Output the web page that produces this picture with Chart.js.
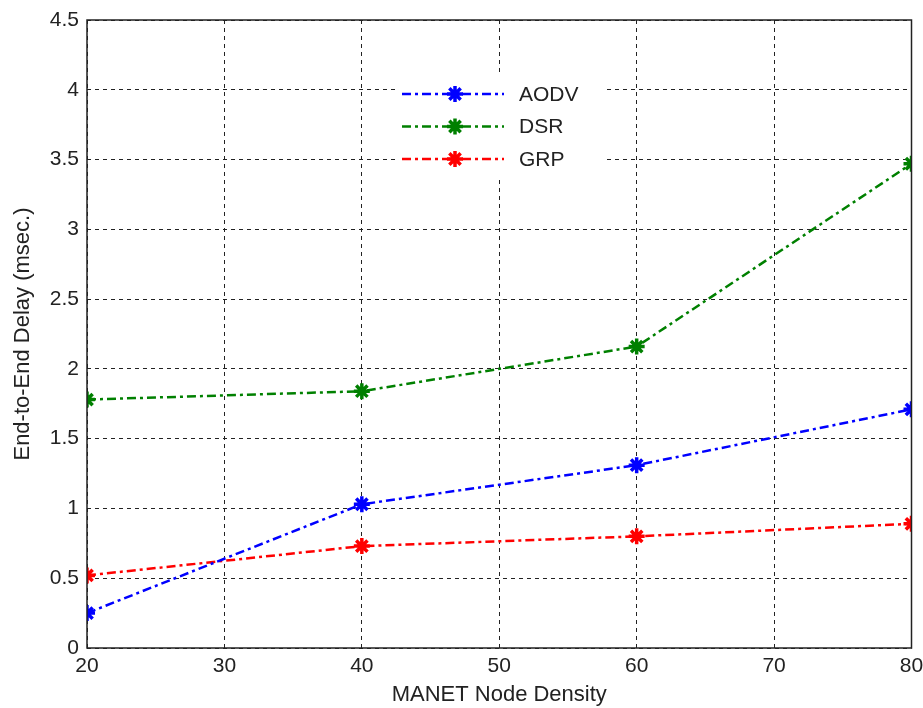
<!DOCTYPE html>
<html>
<head>
<meta charset="utf-8">
<script src="https://cdn.jsdelivr.net/npm/chart.js@4.4.1/dist/chart.umd.min.js"></script>
<style>
  html, body { margin: 0; padding: 0; background: #fff; }
  #wrap { width: 923px; height: 708px; }
</style>
</head>
<body>
<div id="wrap"><canvas id="lineChart" width="923" height="708"></canvas></div>
<script>
// node density (x axis)
var density = [20, 40, 60, 80];
// end-to-end delay in msec
var aodv = [0.25, 1.03, 1.31, 1.71];
var dsr = [1.78, 1.84, 2.16, 3.47];
var grp = [0.52, 0.73, 0.80, 0.89];
var yTicks = [0, 0.5, 1, 1.5, 2, 2.5, 3, 3.5, 4, 4.5];
var xTicks = [20, 30, 40, 50, 60, 70, 80];

var FONT = "'Liberation Sans', Arial, sans-serif";

function pts(vals) {
  return density.map(function (d, i) { return { x: d, y: vals[i] }; });
}

function series(label, vals, color) {
  return {
    label: label,
    data: pts(vals),
    borderColor: color,
    backgroundColor: color,
    borderWidth: 2.5,
    borderDash: [9, 4, 3, 4],
    pointStyle: "star",
    pointRadius: 8,
    pointBorderWidth: 3.5,
    pointBorderColor: color,
    tension: 0,
    fill: false,
  };
}

// box around plot + legend inside plot area (MATLAB style)
var matlabBits = {
  id: "matlabBits",
  afterDatasetsDraw: function (chart) {
    var c = chart.ctx, a = chart.chartArea;
    c.save();
    c.strokeStyle = "#222";
    c.lineWidth = 1.5;
    c.setLineDash([]);
    c.strokeRect(a.left, a.top, a.right - a.left, a.bottom - a.top);

    // legend
    c.fillStyle = "#fff";
    c.fillRect(395, 74, 210, 102);
    chart.data.datasets.forEach(function (ds, i) {
      var y = 94 + i * 32.5;
      c.strokeStyle = ds.borderColor;
      c.lineWidth = ds.borderWidth;
      c.setLineDash(ds.borderDash);
      c.beginPath();
      c.moveTo(402, y);
      c.lineTo(504, y);
      c.stroke();
      c.setLineDash([]);
      c.lineWidth = ds.pointBorderWidth;
      Chart.helpers.drawPoint(c, { pointStyle: "star", radius: 8, rotation: 0, borderWidth: ds.pointBorderWidth }, 455, y);
      c.fillStyle = "#222";
      c.font = "21px " + FONT;
      c.textBaseline = "middle";
      c.textAlign = "left";
      c.fillText(ds.label, 519, y + 1);
    });
    c.restore();
  },
};

var ctx = document.getElementById("lineChart").getContext("2d");
var myChart = new Chart(ctx, {
  type: "line",
  data: {
    datasets: [
      series("AODV", aodv, "#0000ff"),
      series("DSR", dsr, "#008000"),
      series("GRP", grp, "#ff0000"),
    ],
  },
  options: {
    responsive: false,
    animation: false,
    layout: { padding: { top: 20, right: 11, left: 0, bottom: 0 } },
    plugins: {
      legend: { display: false },
      tooltip: { enabled: false },
    },
    scales: {
      x: {
        type: "linear",
        min: 20,
        max: 80,
        afterBuildTicks: function (s) { s.ticks = xTicks.map(function (v) { return { value: v }; }); },
        afterFit: function (s) { s.height = 60; s.paddingRight = 0; s.paddingLeft = 0; },
        grid: { color: "#222", lineWidth: 1, drawTicks: false },
        border: { display: false, dash: [4, 4] },
        ticks: {
          color: "#222",
          padding: 6,
          font: { family: FONT, size: 21 },
          maxRotation: 0,
          callback: function (v) { return String(v); },
        },
        title: {
          display: true,
          text: "MANET Node Density",
          color: "#222",
          padding: { top: 0, bottom: 0 },
          font: { family: FONT, size: 22 },
        },
      },
      y: {
        min: 0,
        max: 4.5,
        afterBuildTicks: function (s) { s.ticks = yTicks.map(function (v) { return { value: v }; }); },
        afterFit: function (s) { s.width = 87; s.paddingTop = 0; s.paddingBottom = 0; },
        grid: { color: "#222", lineWidth: 1, drawTicks: false },
        border: { display: false, dash: [4, 4] },
        ticks: {
          color: "#222",
          padding: 8,
          font: { family: FONT, size: 21 },
          callback: function (v) { return String(v); },
        },
        title: {
          display: true,
          text: "End-to-End Delay (msec.)",
          color: "#222",
          padding: { top: 10, bottom: 0 },
          font: { family: FONT, size: 22 },
        },
      },
    },
  },
  plugins: [matlabBits],
});
</script>
</body>
</html>
